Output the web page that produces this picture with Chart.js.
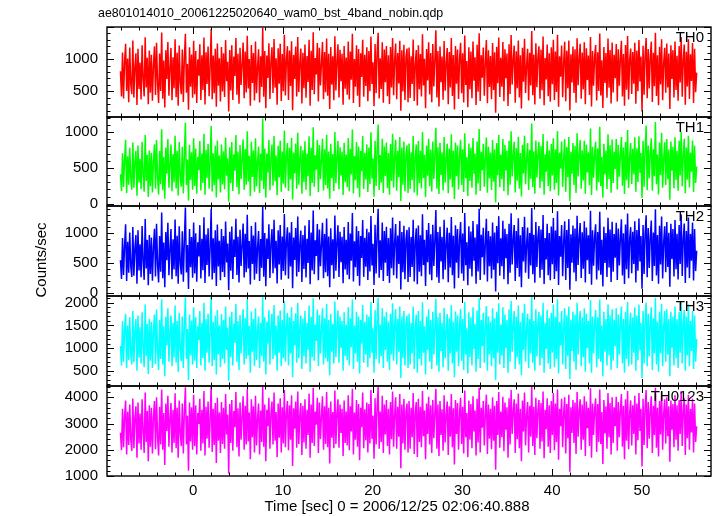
<!DOCTYPE html>
<html>
<head>
<meta charset="utf-8">
<script src="https://cdn.jsdelivr.net/npm/chart.js@4.4.1/dist/chart.umd.min.js"></script>
<style>
  html, body { margin: 0; padding: 0; background: #fff; }
  #wrap { position: relative; width: 717px; height: 516px; overflow: hidden; }
  #wrap canvas { position: absolute; left: 0; top: 0; }
</style>
</head>
<body>
<div id="wrap"></div>
<script>
const FONT = '"Liberation Sans", Arial, Helvetica, sans-serif';
const TITLE = 'ae801014010_20061225020640_wam0_bst_4band_nobin.qdp';
const X_TITLE = 'Time [sec] 0 = 2006/12/25 02:06:40.888';
const Y_TITLE = 'Counts/sec';

// time grid of the light curve: first bin and bin width (sec)
const T_START = -8.1, T_BIN = 0.11485;
const X_MIN = -9.6, X_MAX = 57.7;
const xTicks = [0, 10, 20, 30, 40, 50];
const X_MAJOR = 10, X_MINOR = 2;

// counts/sec per band
const th0 = [
  812, 420, 1105, 388, 960, 1240, 505, 1010, 330, 1180, 612, 455, 1290, 402, 875, 1090, 286, 1160, 534, 948,
  372, 1215, 690, 418, 1342, 560, 1022, 298, 1134, 476, 1068, 352, 905, 1198, 441, 1255, 620, 318, 1088, 505,
  1415, 385, 978, 247, 1140, 692, 1266, 430, 862, 1175, 362, 1030, 548, 1310, 409, 1098, 275, 1212, 640, 456,
  1148, 335, 1024, 1395, 478, 926, 212, 1186, 570, 1072, 398, 1286, 455, 1125, 318, 996, 742, 1230, 364, 1062,
  520, 1338, 296, 1108, 612, 1198, 422, 884, 1470, 378, 1056, 468, 1160, 260, 1242, 586, 1014, 342, 1188, 496,
  1092, 410, 1296, 655, 958, 184, 1142, 512, 1214, 366, 1040, 738, 1328, 445, 1082, 308, 1176, 598, 916, 1260,
  392, 1118, 482, 1364, 542, 1002, 276, 1220, 630, 1094, 356, 1274, 468, 876, 1152, 324, 1046, 566, 1490, 414,
  1126, 238, 1058, 708, 1246, 382, 966, 1186, 472, 1312, 556, 1012, 292, 1168, 618, 1238, 348, 1080, 502, 1380,
  436, 992, 1202, 366, 1136, 584, 1280, 206, 1066, 690, 1196, 420, 1344, 488, 946, 1164, 312, 1098, 548, 1226,
  398, 1050, 646, 1302, 274, 1132, 520, 1418, 456, 1018, 760, 1250, 340, 1176, 592, 930, 1268, 376, 1112, 486,
  1320, 430, 1084, 226, 1190, 604, 1044, 362, 1356, 512, 968, 1232, 404, 1146, 656, 1082, 290, 1204, 540, 1026,
  448, 1276, 372, 1120, 680, 1394, 318, 1002, 572, 1214, 432, 1158, 254, 1090, 724, 1300, 416, 1068, 582, 1184,
  346, 1128, 502, 1352, 612, 950, 268, 1236, 470, 1100, 1410, 388, 1014, 536, 1264, 322, 1150, 642, 1206, 424,
  1060, 302, 1188, 558, 1330, 440, 986, 1244, 378, 1096, 620, 1284, 196, 1138, 498, 1222, 364, 1040, 1166, 330,
  1182, 396, 1044, 612, 1306, 348, 918, 1142, 280, 1216, 530, 1078, 418, 1388, 592, 1004, 236, 1158, 668, 1262,
  452, 1096, 330, 1234, 576, 988, 1450, 404, 1128, 264, 1196, 642, 1042, 368, 1282, 508, 936, 1174, 300, 1110,
  560, 1328, 426, 1064, 218, 1206, 618, 1148, 380, 1010, 1254, 470, 1092, 326, 1366, 598, 972, 252, 1186, 532,
  1120, 392, 1274, 664, 1030, 288, 1224, 494, 1402, 350, 1062, 710, 1180, 430, 954, 1296, 314, 1138, 566, 1048,
  378, 1250, 520, 1106, 168, 1192, 624, 1338, 412, 1020, 572, 1268, 346, 1154, 704, 1086, 270, 1230, 458, 1374,
  604, 984, 1210, 322, 1124, 546, 1290, 402, 1060, 232, 1176, 650, 1316, 474, 902, 1162, 358, 1098, 590, 1436,
  440, 1070, 296, 1248, 562, 1034, 1200, 386, 1144, 516, 1352, 284, 1016, 682, 1228, 424, 1090, 336, 1184, 610,
  1302, 364, 1118, 490, 1380, 258, 1046, 728, 1212, 408, 964, 1270, 344, 1132, 548, 1288, 202, 1074, 636, 1196,
  472, 1154, 320, 1326, 596, 1008, 1240, 384, 1102, 530, 1262, 300, 1170, 674, 1056, 442, 1344, 262, 1126, 586,
  1036, 1218, 356, 1108, 506, 1398, 434, 982, 240, 1190, 628, 1094, 398, 1320, 554, 1142, 310, 1260, 482, 1068,
  702, 1236, 342, 1152, 588, 1012, 1284, 420, 1080, 274, 1220, 526, 1360, 372, 998, 1166, 458, 1110, 616, 1254,
  306, 1134, 500, 1296, 652, 1040, 186, 1208, 446, 1084, 1330, 390, 1156, 542, 1026, 1272, 334, 1100, 578, 1412,
  426, 1062, 284, 1192, 604, 1310, 362, 940, 1178, 478, 1244, 560, 1088, 226, 1214, 690, 1140, 404, 1276, 520,
  1052, 352, 1204, 636, 1346, 414, 996, 1226, 292, 1116, 574, 1308, 380, 1074, 662, 1250, 318, 1160, 484, 790
];
const th1 = [
  412, 180, 705, 236, 610, 892, 150, 664, 268, 780, 342, 198, 856, 224, 574, 740, 112, 812, 296, 628,
  204, 866, 402, 168, 958, 318, 682, 96, 744, 246, 712, 158, 598, 830, 210, 890, 364, 132, 736, 274,
  1040, 190, 652, 72, 786, 420, 904, 226, 560, 826, 176, 694, 302, 948, 214, 738, 118, 862, 384, 238,
  796, 144, 676, 1130, 262, 618, 48, 824, 332, 720, 196, 912, 250, 770, 142, 654, 470, 876, 186, 700,
  292, 978, 126, 752, 360, 836, 212, 590, 1086, 172, 706, 258, 808, 88, 884, 340, 672, 160, 826, 270,
  734, 204, 924, 392, 636, 30, 790, 286, 860, 178, 690, 462, 960, 230, 726, 134, 818, 348, 612, 898,
  196, 764, 266, 1010, 312, 668, 106, 866, 374, 742, 170, 914, 246, 580, 800, 152, 696, 322, 1190, 208,
  772, 84, 702, 438, 888, 190, 640, 826, 254, 946, 316, 672, 120, 810, 366, 880, 168, 728, 282, 1020,
  226, 660, 848, 180, 782, 340, 920, 60, 716, 424, 840, 210, 990, 268, 628, 806, 140, 748, 306, 872,
  198, 700, 384, 942, 110, 780, 290, 1066, 238, 678, 476, 890, 162, 818, 344, 622, 908, 186, 760, 264,
  962, 214, 730, 70, 836, 356, 694, 180, 1000, 286, 648, 876, 204, 790, 396, 726, 122, 852, 300, 686,
  232, 918, 176, 768, 414, 1036, 146, 668, 330, 862, 218, 800, 92, 736, 450, 944, 206, 712, 338, 828,
  164, 784, 276, 996, 352, 634, 100, 880, 250, 746, 1104, 194, 680, 296, 908, 150, 800, 390, 856, 216,
  708, 128, 834, 318, 976, 228, 654, 892, 184, 740, 372, 930, 40, 786, 266, 868, 176, 690, 814, 150,
  842, 206, 718, 330, 944, 158, 640, 828, 118, 876, 286, 740, 214, 1002, 360, 684, 94, 812, 392, 908,
  244, 756, 172, 870, 348, 664, 1060, 210, 790, 136, 852, 402, 720, 186, 932, 296, 626, 838, 148, 770,
  340, 968, 232, 742, 64, 856, 386, 814, 200, 688, 894, 262, 760, 166, 984, 358, 650, 110, 840, 318,
  780, 226, 918, 420, 700, 128, 870, 282, 1044, 178, 724, 470, 836, 240, 640, 924, 154, 796, 352, 714,
  194, 890, 308, 760, 20, 848, 398, 958, 230, 686, 344, 902, 174, 820, 466, 744, 120, 880, 268, 1010,
  380, 672, 866, 160, 778, 322, 936, 210, 708, 104, 824, 424, 948, 272, 612, 846, 192, 752, 350, 1120,
  236, 730, 142, 884, 366, 698, 862, 220, 806, 310, 972, 128, 690, 446, 876, 248, 746, 176, 834, 396,
  914, 196, 760, 292, 1016, 116, 716, 492, 868, 234, 640, 900, 170, 792, 372, 930, 36, 724, 420, 846,
  262, 808, 150, 982, 380, 676, 890, 212, 748, 326, 878, 140, 822, 436, 718, 260, 1050, 124, 794, 364,
  700, 864, 186, 770, 300, 1074, 244, 654, 86, 836, 414, 742, 208, 968, 346, 816, 156, 896, 290, 724,
  486, 902, 200, 820, 378, 668, 930, 254, 784, 136, 862, 330, 1028, 222, 660, 848, 278, 766, 412, 926,
  168, 774, 304, 940, 432, 712, 80, 876, 238, 746, 1092, 190, 812, 358, 704, 914, 182, 760, 386, 1140,
  272, 686, 130, 854, 402, 990, 226, 620, 858, 264, 904, 348, 758, 58, 870, 460, 794, 216, 928, 334,
  738, 182, 880, 394, 1006, 246, 672, 908, 148, 786, 336, 950, 228, 716, 448, 882, 164, 808, 292, 520
];
const th2 = [
  540, 230, 912, 296, 788, 1140, 196, 850, 332, 1002, 436, 262, 1096, 284, 736, 960, 150, 1040, 372, 806,
  256, 1112, 516, 214, 1230, 404, 880, 124, 962, 314, 920, 200, 770, 1064, 270, 1148, 466, 170, 946, 350,
  1336, 242, 838, 92, 1010, 540, 1164, 290, 720, 1060, 224, 892, 386, 1218, 274, 950, 150, 1108, 494, 304,
  1024, 184, 870, 1420, 336, 794, 60, 1060, 424, 926, 250, 1170, 320, 990, 182, 842, 604, 1126, 238, 900,
  374, 1256, 162, 968, 462, 1074, 272, 760, 1398, 220, 908, 330, 1040, 112, 1136, 436, 864, 206, 1062, 346,
  944, 262, 1188, 504, 818, 40, 1016, 368, 1104, 228, 888, 594, 1232, 296, 934, 172, 1050, 446, 786, 1154,
  252, 982, 342, 1300, 402, 860, 136, 1112, 480, 954, 218, 1174, 316, 746, 1028, 196, 894, 414, 1440, 266,
  994, 108, 902, 562, 1142, 244, 822, 1060, 326, 1216, 406, 864, 154, 1040, 470, 1130, 216, 936, 362, 1312,
  290, 848, 1090, 232, 1004, 436, 1180, 76, 920, 546, 1080, 270, 1270, 344, 808, 1036, 180, 962, 394, 1120,
  254, 900, 494, 1210, 142, 1002, 372, 1370, 306, 872, 612, 1144, 208, 1052, 442, 800, 1166, 240, 976, 340,
  1236, 276, 938, 90, 1074, 458, 892, 232, 1286, 368, 832, 1124, 262, 1014, 508, 934, 156, 1096, 386, 882,
  298, 1180, 226, 986, 532, 1330, 188, 858, 424, 1108, 280, 1028, 118, 946, 578, 1212, 264, 916, 434, 1064,
  210, 1008, 354, 1280, 452, 814, 128, 1132, 322, 958, 1400, 248, 874, 380, 1168, 194, 1028, 500, 1100, 278,
  910, 164, 1072, 408, 1254, 292, 840, 1146, 236, 952, 478, 1196, 52, 1010, 342, 1116, 226, 886, 1046, 180,
  1090, 262, 930, 428, 1214, 188, 846, 1074, 142, 1120, 350, 958, 276, 1306, 460, 884, 110, 1046, 508, 1162,
  304, 972, 208, 1132, 446, 860, 1380, 258, 1012, 164, 1098, 520, 930, 226, 1216, 382, 804, 1084, 176, 1000,
  420, 1262, 290, 950, 70, 1124, 498, 1060, 244, 894, 1176, 320, 986, 200, 1330, 456, 842, 126, 1106, 398,
  1020, 270, 1196, 532, 918, 150, 1140, 354, 1400, 212, 966, 590, 1082, 300, 836, 1234, 186, 1030, 440, 942,
  238, 1170, 384, 1004, 20, 1112, 490, 1276, 282, 908, 440, 1200, 226, 1066, 574, 976, 140, 1150, 334, 1324,
  470, 880, 1128, 196, 1028, 414, 1240, 268, 958, 92, 1094, 522, 1264, 334, 802, 1086, 232, 994, 452, 1410,
  306, 964, 168, 1180, 428, 928, 1110, 250, 1054, 382, 1296, 146, 912, 552, 1150, 290, 996, 208, 1102, 476,
  1246, 228, 1036, 356, 1358, 130, 944, 600, 1126, 276, 862, 1190, 212, 1044, 414, 1226, 48, 972, 500, 1120,
  338, 1070, 190, 1282, 462, 912, 1160, 246, 1008, 398, 1190, 172, 1086, 540, 958, 310, 1364, 134, 1040, 448,
  930, 1140, 222, 1012, 372, 1350, 300, 882, 104, 1100, 496, 996, 262, 1250, 420, 1052, 180, 1184, 350, 976,
  582, 1166, 210, 1070, 454, 908, 1222, 286, 990, 146, 1136, 392, 1318, 240, 892, 1092, 324, 1016, 480, 1190,
  172, 1044, 368, 1236, 520, 944, 64, 1130, 310, 992, 1290, 256, 1078, 410, 928, 1204, 196, 1004, 444, 1390,
  288, 960, 150, 1116, 470, 1268, 236, 840, 1108, 342, 1176, 430, 1000, 100, 1148, 560, 1060, 270, 1212, 392,
  984, 220, 1130, 480, 1304, 280, 900, 1154, 160, 1028, 420, 1252, 244, 980, 532, 1168, 202, 1062, 360, 700
];
const th3 = [
  1050, 620, 1590, 700, 1420, 1760, 560, 1500, 740, 1680, 880, 640, 1820, 690, 1360, 1640, 500, 1720, 790, 1460,
  660, 1790, 1010, 580, 1960, 820, 1530, 430, 1650, 720, 1580, 560, 1400, 1740, 650, 1850, 930, 520, 1620, 760,
  2080, 640, 1480, 380, 1700, 1060, 1880, 700, 1350, 1720, 600, 1560, 800, 1940, 680, 1600, 480, 1780, 980, 710,
  1700, 560, 1520, 2120, 760, 1420, 300, 1740, 840, 1610, 640, 1900, 720, 1680, 560, 1480, 1180, 1820, 620, 1560,
  780, 2000, 500, 1640, 900, 1760, 680, 1370, 2150, 600, 1580, 740, 1720, 420, 1840, 860, 1500, 580, 1750, 760,
  1620, 660, 1920, 960, 1450, 280, 1700, 800, 1800, 620, 1540, 1120, 1980, 700, 1600, 520, 1730, 880, 1400, 1860,
  640, 1660, 760, 2060, 840, 1490, 460, 1810, 920, 1640, 600, 1880, 740, 1380, 1700, 560, 1560, 820, 2140, 700,
  1680, 420, 1580, 1100, 1840, 640, 1460, 1760, 760, 1950, 840, 1500, 500, 1720, 900, 1830, 600, 1620, 780, 2040,
  700, 1480, 1780, 620, 1680, 880, 1900, 360, 1600, 1060, 1770, 680, 2000, 780, 1440, 1720, 540, 1650, 820, 1820,
  660, 1560, 960, 1940, 480, 1690, 800, 2100, 720, 1520, 1160, 1850, 600, 1730, 880, 1420, 1880, 640, 1660, 780,
  1980, 700, 1620, 400, 1760, 920, 1540, 660, 2030, 800, 1470, 1830, 680, 1700, 1000, 1600, 500, 1790, 820, 1520,
  740, 1900, 620, 1660, 1020, 2070, 540, 1500, 880, 1800, 700, 1700, 440, 1620, 1100, 1950, 680, 1580, 860, 1740,
  580, 1700, 780, 2020, 900, 1440, 460, 1840, 760, 1640, 2110, 660, 1520, 820, 1880, 560, 1700, 960, 1800, 700,
  1580, 520, 1760, 860, 1990, 720, 1480, 1860, 640, 1650, 920, 1920, 340, 1700, 780, 1820, 620, 1540, 1720, 560,
  1760, 640, 1560, 880, 1920, 540, 1440, 1740, 460, 1820, 760, 1600, 620, 2010, 900, 1480, 420, 1700, 960, 1860,
  700, 1620, 540, 1800, 860, 1420, 2090, 620, 1680, 480, 1780, 940, 1560, 580, 1890, 780, 1400, 1750, 500, 1660,
  880, 1950, 660, 1580, 360, 1810, 920, 1720, 600, 1500, 1860, 720, 1640, 520, 2020, 860, 1440, 440, 1790, 800,
  1680, 620, 1900, 980, 1540, 480, 1830, 760, 2100, 560, 1620, 1040, 1780, 680, 1460, 1930, 500, 1700, 860, 1580,
  600, 1880, 780, 1660, 300, 1800, 900, 1990, 640, 1520, 840, 1900, 560, 1740, 1000, 1620, 460, 1860, 700, 2040,
  920, 1480, 1820, 540, 1700, 800, 1940, 640, 1580, 400, 1780, 960, 1980, 700, 1420, 1760, 560, 1640, 880, 2130,
  680, 1600, 500, 1860, 820, 1540, 1800, 620, 1720, 780, 2000, 460, 1560, 980, 1840, 660, 1660, 540, 1780, 900,
  1960, 580, 1700, 760, 2080, 440, 1580, 1060, 1820, 640, 1480, 1880, 540, 1720, 820, 1920, 320, 1620, 940, 1800,
  700, 1740, 520, 2000, 860, 1520, 1820, 600, 1680, 800, 1880, 480, 1760, 1000, 1600, 660, 2060, 460, 1700, 880,
  1560, 1840, 580, 1680, 760, 2070, 700, 1500, 380, 1800, 920, 1640, 620, 1960, 840, 1720, 520, 1860, 720, 1620,
  1040, 1880, 560, 1740, 860, 1540, 1920, 660, 1640, 460, 1800, 760, 2020, 600, 1480, 1780, 640, 1680, 900, 1900,
  500, 1720, 740, 1960, 960, 1560, 340, 1820, 660, 1640, 2000, 600, 1760, 820, 1560, 1900, 520, 1660, 880, 2110,
  640, 1580, 480, 1800, 880, 1980, 600, 1460, 1820, 700, 1860, 860, 1640, 380, 1800, 1000, 1700, 620, 1920, 780,
  1640, 560, 1800, 900, 2040, 660, 1520, 1840, 500, 1700, 840, 1960, 600, 1600, 940, 1820, 540, 1720, 700, 1200
];
const th0123 = [
  2650, 1980, 3560, 2100, 3300, 3880, 1820, 3450, 2180, 3720, 2400, 1960, 3950, 2060, 3220, 3660, 1700, 3800, 2240, 3380,
  2000, 3920, 2700, 1880, 4180, 2300, 3480, 1560, 3700, 2120, 3600, 1860, 3260, 3860, 2020, 4000, 2500, 1780, 3640, 2200,
  4300, 2000, 3400, 1420, 3760, 2720, 4060, 2120, 3200, 3780, 1900, 3520, 2260, 4150, 2060, 3600, 1700, 3880, 2640, 2140,
  3760, 1860, 3460, 4380, 2200, 3300, 1200, 3800, 2320, 3620, 2000, 4100, 2140, 3700, 1820, 3400, 2980, 3940, 1960, 3520,
  2240, 4240, 1780, 3640, 2420, 3840, 2080, 3200, 4420, 1920, 3560, 2180, 3780, 1500, 3980, 2340, 3420, 1880, 3820, 2220,
  3600, 2040, 4120, 2580, 3340, 1100, 3740, 2260, 3900, 1960, 3480, 2860, 4200, 2100, 3580, 1740, 3800, 2380, 3260, 4040,
  2000, 3680, 2200, 4300, 2320, 3420, 1640, 3920, 2480, 3660, 1900, 4060, 2160, 3200, 3760, 1820, 3500, 2300, 4410, 2120,
  3720, 1560, 3520, 2900, 3980, 2040, 3380, 3840, 2200, 4180, 2340, 3440, 1720, 3760, 2460, 3960, 1900, 3620, 2240, 4280,
  2100, 3400, 3860, 1980, 3700, 2380, 4080, 1380, 3580, 2800, 3840, 2080, 4220, 2220, 3320, 3780, 1800, 3680, 2280, 3920,
  2040, 3520, 2560, 4140, 1700, 3720, 2260, 4360, 2140, 3460, 2960, 3980, 1880, 3800, 2400, 3280, 4040, 2000, 3660, 2220,
  4200, 2100, 3600, 1480, 3840, 2460, 3440, 2060, 4260, 2220, 3380, 3920, 2080, 3720, 2640, 3560, 1760, 3880, 2260, 3460,
  2160, 4080, 1980, 3660, 2700, 4320, 1820, 3420, 2380, 3900, 2120, 3740, 1600, 3600, 2860, 4180, 2060, 3540, 2360, 3800,
  1900, 3740, 2240, 4280, 2420, 3300, 1660, 3960, 2200, 3640, 4400, 2040, 3460, 2300, 4060, 1880, 3720, 2580, 3900, 2140,
  3560, 1820, 3820, 2400, 4220, 2120, 3360, 4000, 2040, 3640, 2500, 4120, 1300, 3720, 2240, 3940, 2000, 3460, 3760, 1900,
  3860, 2040, 3600, 2480, 4160, 1840, 3420, 3820, 1720, 3940, 2300, 3640, 2100, 4240, 2520, 3500, 1640, 3760, 2600, 4020,
  2200, 3700, 1880, 3900, 2440, 3380, 4320, 2040, 3720, 1760, 3860, 2560, 3540, 1960, 4080, 2280, 3340, 3840, 1800, 3660,
  2500, 4120, 2100, 3580, 1440, 3900, 2600, 3780, 2000, 3420, 3980, 2220, 3640, 1860, 4260, 2480, 3400, 1720, 3880, 2380,
  3740, 2060, 4040, 2700, 3500, 1780, 3940, 2280, 4360, 1900, 3600, 2840, 3860, 2160, 3380, 4100, 1840, 3720, 2420, 3560,
  2020, 4000, 2340, 3680, 1240, 3860, 2560, 4200, 2080, 3460, 2480, 4020, 1940, 3800, 2760, 3620, 1700, 3960, 2200, 4280,
  2600, 3440, 3920, 1880, 3760, 2400, 4140, 2060, 3560, 1560, 3880, 2700, 4180, 2160, 3320, 3820, 1900, 3680, 2500, 4390,
  2140, 3640, 1800, 3980, 2440, 3500, 3900, 2040, 3780, 2320, 4220, 1680, 3520, 2780, 3960, 2120, 3700, 1880, 3860, 2560,
  4160, 1980, 3760, 2300, 4300, 1620, 3560, 2900, 3940, 2100, 3420, 4000, 1860, 3740, 2440, 4100, 1160, 3620, 2640, 3900,
  2260, 3800, 1840, 4200, 2500, 3480, 3920, 2000, 3720, 2380, 4040, 1760, 3840, 2820, 3600, 2140, 4340, 1700, 3760, 2560,
  3540, 3960, 1920, 3740, 2300, 4300, 2220, 3440, 1460, 3900, 2620, 3660, 2040, 4160, 2480, 3780, 1820, 4000, 2260, 3620,
  2900, 4020, 1960, 3820, 2480, 3520, 4120, 2120, 3680, 1640, 3920, 2340, 4240, 2020, 3400, 3880, 2160, 3700, 2600, 4060,
  1820, 3760, 2360, 4160, 2720, 3560, 1360, 3940, 2180, 3640, 4280, 2060, 3820, 2420, 3520, 4040, 1880, 3680, 2560, 4360,
  2080, 3600, 1740, 3860, 2580, 4200, 2000, 3380, 3920, 2240, 4000, 2520, 3660, 1540, 3880, 2760, 3740, 2100, 4080, 2380,
  3700, 1960, 3900, 2600, 4240, 2140, 3480, 3960, 1800, 3720, 2440, 4100, 2000, 3560, 2660, 3940, 1900, 3760, 2300, 2900
];

// y ranges and labelled ticks per panel
const th0Range = [100, 1500],   th0Ticks = [500, 1000];
const th1Range = [-30, 1210],   th1Ticks = [0, 500, 1000];
const th2Range = [-55, 1445],   th2Ticks = [0, 500, 1000];
const th3Range = [165, 2150],   th3Ticks = [500, 1000, 1500, 2000];
const th0123Range = [1000, 4430], th0123Ticks = [1000, 2000, 3000, 4000];

const times = th0.map((_, i) => +(T_START + i * T_BIN).toFixed(4));

const panels = [
  { name: 'TH0',    color: '#ff0000', values: th0,    range: th0Range,    ticks: th0Ticks,    major: 500,  minor: 100, top: 27,  bottom: 117 },
  { name: 'TH1',    color: '#00ff00', values: th1,    range: th1Range,    ticks: th1Ticks,    major: 500,  minor: 100, top: 117, bottom: 206 },
  { name: 'TH2',    color: '#0000ff', values: th2,    range: th2Range,    ticks: th2Ticks,    major: 500,  minor: 100, top: 206, bottom: 296 },
  { name: 'TH3',    color: '#00ffff', values: th3,    range: th3Range,    ticks: th3Ticks,    major: 500,  minor: 100, top: 296, bottom: 386 },
  { name: 'TH0123', color: '#ff00ff', values: th0123, range: th0123Range, ticks: th0123Ticks, major: 1000, minor: 200, top: 386, bottom: 476 },
];

const W = 717, H = 516;

// frame with inward ticks, qdp style, plus panel label
function framePlugin(p, last) {
  return {
    id: 'qdpFrame',
    afterDatasetsDraw(chart) {
      const { ctx, chartArea: a, scales: { x, y } } = chart;
      ctx.save();
      ctx.strokeStyle = '#000';
      ctx.lineWidth = 1;
      ctx.beginPath();
      for (let v = Math.ceil(y.min / p.minor) * p.minor; v <= y.max; v += p.minor) {
        const py = Math.round(y.getPixelForValue(v)) + 0.5;
        const len = v % p.major === 0 ? 7 : 3.5;
        ctx.moveTo(a.left, py); ctx.lineTo(a.left + len, py);
        ctx.moveTo(a.right, py); ctx.lineTo(a.right - len, py);
      }
      for (let v = Math.ceil(x.min / X_MINOR) * X_MINOR; v <= x.max; v += X_MINOR) {
        const px = Math.round(x.getPixelForValue(v)) + 0.5;
        const len = v % X_MAJOR === 0 ? 7 : 3.5;
        ctx.moveTo(px, a.top); ctx.lineTo(px, a.top + len);
        ctx.moveTo(px, a.bottom); ctx.lineTo(px, a.bottom - len);
      }
      ctx.stroke();
      ctx.lineWidth = 1.4;
      ctx.strokeRect(a.left, a.top, a.right - a.left, a.bottom - a.top);

      ctx.fillStyle = '#000';
      ctx.font = '15px ' + FONT;
      ctx.textAlign = 'right';
      ctx.textBaseline = 'middle';
      ctx.fillText(p.name, a.right - 7, a.top + 11);

      if (last) {
        ctx.textAlign = 'left';
        ctx.font = '12.4px ' + FONT;
        ctx.fillText(TITLE, 98, 14);
        ctx.font = '15px ' + FONT;
        ctx.textAlign = 'center';
        ctx.fillText(X_TITLE, 397, 507);
        ctx.translate(42, 260);
        ctx.rotate(-Math.PI / 2);
        ctx.fillText(Y_TITLE, 0, 0);
      }
      ctx.restore();
    },
  };
}

const wrap = document.getElementById('wrap');
panels.forEach((p, i) => {
  const last = i === panels.length - 1;
  const canvas = document.createElement('canvas');
  canvas.width = W; canvas.height = H;
  canvas.style.width = W + 'px'; canvas.style.height = H + 'px';
  wrap.appendChild(canvas);

  new Chart(canvas.getContext('2d'), {
    type: 'line',
    data: {
      labels: times,
      datasets: [{
        data: p.values,
        borderColor: p.color,
        borderWidth: 1.5,
        borderJoinStyle: 'bevel',
        pointRadius: 0,
        tension: 0,
        fill: false,
        clip: 0,
      }],
    },
    options: {
      responsive: false,
      animation: false,
      events: [],
      layout: { padding: { top: p.top, bottom: last ? 0 : H - p.bottom, left: 0, right: 6 } },
      plugins: { legend: { display: false }, tooltip: { enabled: false } },
      scales: {
        x: {
          type: 'linear',
          min: X_MIN,
          max: X_MAX,
          display: last,
          afterFit: (s) => { s.height = last ? 40 : 0; },
          afterBuildTicks: (s) => { s.ticks = xTicks.map((v) => ({ value: v })); },
          grid: { display: false, drawTicks: false },
          border: { display: false },
          ticks: {
            color: '#000', font: { family: FONT, size: 15 }, padding: 6,
            maxRotation: 0, autoSkip: false, callback: (v) => String(v),
          },
        },
        y: {
          min: p.range[0],
          max: p.range[1],
          afterFit: (s) => { s.width = 107; },
          afterBuildTicks: (s) => { s.ticks = p.ticks.map((v) => ({ value: v })); },
          grid: { display: false, drawTicks: false },
          border: { display: false },
          ticks: {
            color: '#000', font: { family: FONT, size: 15 }, padding: 9,
            autoSkip: false, callback: (v) => String(v),
          },
        },
      },
    },
    plugins: [framePlugin(p, last)],
  });
});
</script>
</body>
</html>
